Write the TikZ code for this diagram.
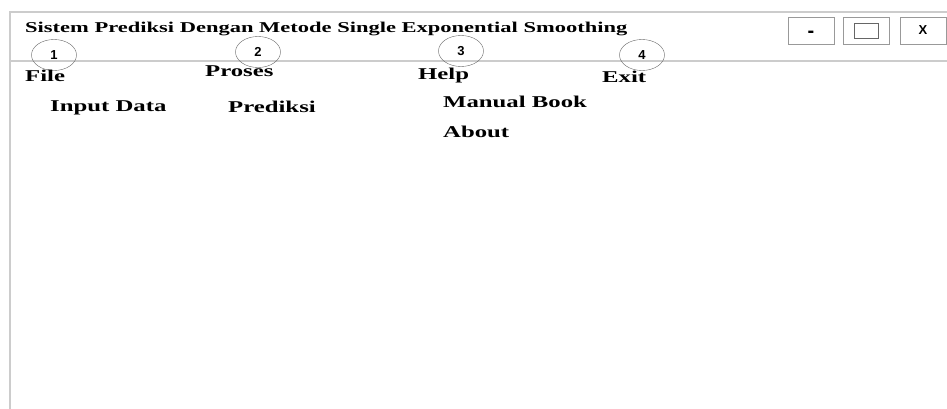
\documentclass[tikz,border=0pt]{standalone}
\usepackage{fontspec}
\newfontfamily\winfont{Liberation Serif}[FakeStretch=1.5]
\newfontfamily\numfont{Liberation Sans}
\usetikzlibrary{shapes.geometric}

\tikzset{
    menu/.style={font=\winfont\bfseries\fontsize{16.5}{18}\selectfont, inner sep=0pt, anchor=base west},
    num/.style={draw=black!60, ellipse, minimum width=45pt, minimum height=31pt, inner sep=0pt,
        font=\numfont\bfseries\fontsize{13}{14}\selectfont},
    btn/.style={draw=black!40, thick, minimum width=46pt, minimum height=27pt, inner sep=0pt,
        font=\numfont\bfseries\fontsize{13}{13}\selectfont}
}

\begin{document}
\begin{tikzpicture}[x=1pt, y=-1pt]
    \useasboundingbox (0,0) rectangle (947,409);
    % window frame
    \draw[black!20, line width=2.5pt] (947,12) -- (10,12) -- (10,409);
    \draw[black!20, line width=2.5pt] (10,61) -- (947,61);
    \node[font=\winfont\bfseries\fontsize{15}{18}\selectfont, inner sep=0pt, anchor=base west] (title) at (25,33) {Sistem Prediksi Dengan Metode Single Exponential Smoothing};

    \node[btn] (btnmin) at (811,30.5) {};
    \node[font=\numfont\bfseries\fontsize{20}{20}\selectfont, inner sep=0pt] (dash) at (811,34) {-};
    \node[btn] (btnmax) at (866.5,30.5) {};
    \node[draw=black!60, thick, minimum width=24pt, minimum height=15pt, inner sep=0pt] (maxsq) at (btnmax) {};
    \node[btn] (btnclose) at (923,30.5) {X};

    \node[num] (c1) at (54,55) {1};
    \node[num] (c2) at (258,52) {2};
    \node[num] (c3) at (461,51) {3};
    \node[num] (c4) at (642,55) {4};

    \node[menu] (file) at (25,82) {File};
    \node[menu] (proses) at (205,77) {Proses};
    \node[menu] (help) at (418,80) {Help};
    \node[menu] (exit) at (602,83) {Exit};

    \node[menu] (inputdata) at (50,112) {Input Data};
    \node[menu] (prediksi) at (228,113) {Prediksi};
    \node[menu] (manualbook) at (443,108) {Manual Book};
    \node[menu] (about) at (443,138) {About};
\end{tikzpicture}
\end{document}
